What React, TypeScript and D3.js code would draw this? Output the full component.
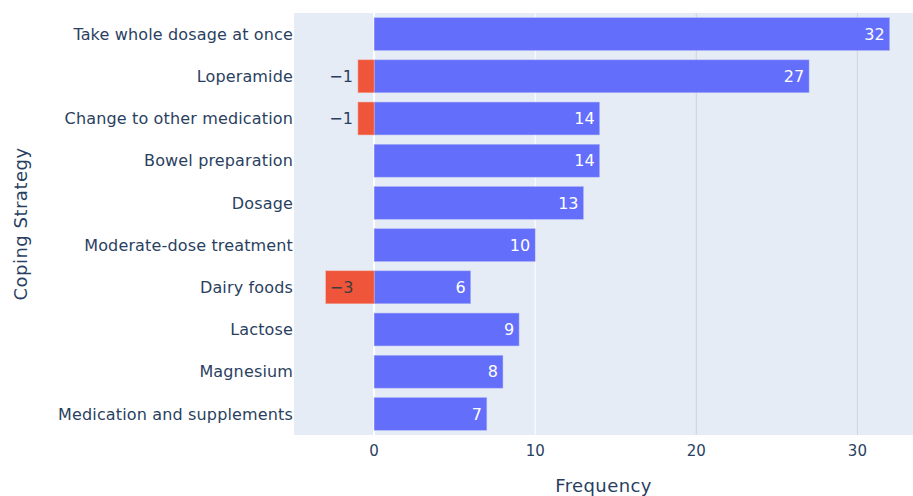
import * as d3 from "d3";
import React from "react";

const categories = [
  "Take whole dosage at once",
  "Loperamide",
  "Change to other medication",
  "Bowel preparation",
  "Dosage",
  "Moderate-dose treatment",
  "Dairy foods",
  "Lactose",
  "Magnesium",
  "Medication and supplements",
];
const positive = [32, 27, 14, 14, 13, 10, 6, 9, 8, 7];
const negative = [0, -1, -1, 0, 0, 0, -3, 0, 0, 0];
const xTicks = [0, 10, 20, 30];

const W = 913;
const H = 496;
const margin = { top: 13, right: 0, bottom: 61, left: 294 };
const font = '"DejaVu Sans", Verdana, sans-serif';
const ink = "#2a3f5f";

const App: React.FC = () => {
  const innerW = W - margin.left - margin.right;
  const innerH = H - margin.top - margin.bottom;

  const x = d3.scaleLinear().domain([-4.97, 33.45]).range([0, innerW]);
  const y = d3
    .scaleBand()
    .domain(categories)
    .range([0, innerH])
    .paddingInner(0.22)
    .paddingOuter(0.11);
  const fmt = (v: number) => (v < 0 ? "\u2212" + Math.abs(v) : String(v));

  return (
    <svg width={W} height={H} style={{ position: "absolute", left: 0, top: 0 }}>
      <rect x={margin.left} y={margin.top} width={innerW} height={innerH} fill="#e5ecf6" />
      <g transform={`translate(${margin.left},${margin.top})`}>
        {xTicks.filter((t) => t !== 0).map((t) => (
          <line
            key={t}
            x1={x(t)}
            x2={x(t)}
            y1={0}
            y2={innerH}
            stroke={t === 10 ? "#ffffff" : "#d3d3d3"}
            strokeWidth={1}
          />
        ))}
        <line x1={x(0)} x2={x(0)} y1={0} y2={innerH} stroke="#fff" strokeWidth={2} />

        {categories.map((c, i) => {
          const by = y(c)!;
          const bh = y.bandwidth();
          const p = positive[i];
          const n = negative[i];
          return (
            <g key={c}>
              <rect
                x={x(0)}
                y={by}
                width={x(p) - x(0)}
                height={bh}
                fill="#636efa"
                stroke="#b8bdf5"
                strokeWidth={0.5}
              />
              <text
                x={x(p) - 5}
                y={by + bh / 2}
                dy="0.36em"
                textAnchor="end"
                fill="#fff"
                fontSize={16}
                fontFamily={font}
              >
                {p}
              </text>
              {n !== 0 && (
                <>
                  <rect
                    x={x(n)}
                    y={by}
                    width={x(0) - x(n)}
                    height={bh}
                    fill="#ef553b"
                    stroke="#f5a99c"
                    strokeWidth={0.5}
                  />
                  <text
                    x={n <= -2 ? x(n) + 4 : x(n) - 5}
                    y={by + bh / 2}
                    dy="0.36em"
                    textAnchor={n <= -2 ? "start" : "end"}
                    fill={n <= -2 ? "#3d3d3d" : ink}
                    fontSize={16}
                    fontFamily={font}
                  >
                    {fmt(n)}
                  </text>
                </>
              )}
            </g>
          );
        })}

        {categories.map((c) => (
          <text
            key={c}
            x={-1}
            y={y(c)! + y.bandwidth() / 2}
            dy="0.36em"
            textAnchor="end"
            fill={ink}
            fontSize={16}
            letterSpacing={0.15}
            fontFamily={font}
          >
            {c}
          </text>
        ))}

        {xTicks.map((t) => (
          <text
            key={t}
            x={x(t)}
            y={innerH + 21}
            textAnchor="middle"
            fill={ink}
            fontSize={15}
            fontFamily={font}
          >
            {t}
          </text>
        ))}
      </g>
      <text
        x={margin.left + innerW / 2}
        y={492}
        textAnchor="middle"
        fill={ink}
        fontSize={18}
        letterSpacing={0.4}
        fontFamily={font}
      >
        Frequency
      </text>
      <text
        transform={`translate(27,${margin.top + innerH / 2}) rotate(-90)`}
        textAnchor="middle"
        fill={ink}
        fontSize={18}
        letterSpacing={0.5}
        fontFamily={font}
      >
        Coping Strategy
      </text>
    </svg>
  );
};

export default App;
